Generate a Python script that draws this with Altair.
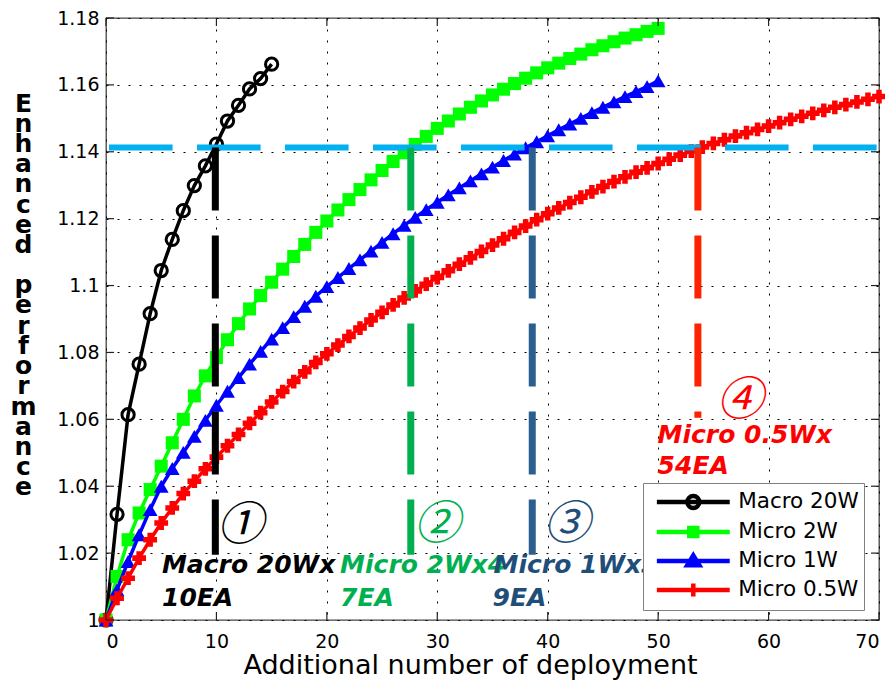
import altair as alt
import pandas as pd

# ---------------- data ----------------
series_names = ["Macro 20W", "Micro 2W", "Micro 1W", "Micro 0.5W"]
series_colors = ["#000000", "#00FF00", "#0000FF", "#FF0000"]

macro_20w = [1.000, 1.0316, 1.0614, 1.0765, 1.0916, 1.1045, 1.1138, 1.1224,
             1.1299, 1.1358, 1.1423, 1.1492, 1.1539, 1.1588, 1.1619, 1.1662]

micro_2w = [1.000, 1.013, 1.024, 1.032, 1.039, 1.046, 1.053, 1.060, 1.067, 1.073,
            1.0785, 1.0838, 1.0886, 1.0930, 1.0970, 1.1010, 1.1049, 1.1087, 1.1123, 1.1159,
            1.1193, 1.1226, 1.1257, 1.1287, 1.1316, 1.1344, 1.1371, 1.1397, 1.1422, 1.1446,
            1.1470, 1.1492, 1.1513, 1.1533, 1.1552, 1.1570, 1.1587, 1.1604, 1.1620, 1.1636,
            1.1651, 1.1665, 1.1679, 1.1692, 1.1705, 1.1717, 1.1729, 1.1740, 1.1750, 1.1760,
            1.1769]

micro_1w = [1.000, 1.009, 1.0175, 1.0255, 1.033, 1.0400, 1.0453, 1.0501, 1.0549, 1.0597,
            1.0642, 1.0684, 1.0725, 1.0765, 1.0803, 1.0840, 1.0874, 1.0907, 1.0938, 1.0968,
            1.0997, 1.1024, 1.1051, 1.1077, 1.1103, 1.1129, 1.1155, 1.1180, 1.1204, 1.1227,
            1.1249, 1.1271, 1.1292, 1.1313, 1.1334, 1.1354, 1.1374, 1.1393, 1.1412, 1.1430,
            1.1448, 1.1466, 1.1483, 1.1500, 1.1517, 1.1533, 1.1549, 1.1565, 1.1580, 1.1595,
            1.1612]

micro_05w = [1.0000, 1.0065, 1.0125, 1.0185, 1.0240, 1.0290, 1.0335, 1.0378, 1.0415, 1.0452,
             1.0487, 1.0521, 1.0555, 1.0588, 1.0620, 1.0652, 1.0683, 1.0713, 1.0742, 1.0770,
             1.0796, 1.0822, 1.0848, 1.0873, 1.0897, 1.0920, 1.0942, 1.0963, 1.0984, 1.1004,
             1.1024, 1.1044, 1.1064, 1.1083, 1.1102, 1.1121, 1.1140, 1.1159, 1.1178, 1.1197,
             1.1215, 1.1232, 1.1248, 1.1264, 1.1280, 1.1296, 1.1311, 1.1325, 1.1339, 1.1352,
             1.1365, 1.1378, 1.1390, 1.1402, 1.1414, 1.1425, 1.1436, 1.1447, 1.1457, 1.1467,
             1.1477, 1.1487, 1.1497, 1.1506, 1.1515, 1.1524, 1.1533, 1.1541, 1.1549, 1.1557,
             1.1565]

series_values = [macro_20w, micro_2w, micro_1w, micro_05w]

# threshold line and vertical markers
threshold = 1.1413
vline_x = [9.9, 27.6, 38.6, 53.6]
vline_bottom = [1.0195, 1.0195, 1.0195, 1.0605]
vline_colors = ["#000000", "#00B050", "#2A5F8F", "#FF2200"]

# annotations
ann_text = ["Macro 20Wx", "10EA", "Micro 2Wx4", "7EA", "Micro 1Wx3", "9EA", "Micro 0.5Wx", "54EA"]
ann_x = [5.07, 5.07, 21.2, 21.2, 35.1, 35.0, 49.95, 49.95]
ann_y = [1.0165, 1.0066, 1.0165, 1.0066, 1.0165, 1.0066, 1.0554, 1.0459]
ann_colors = ["#000000", "#000000", "#00B050", "#00B050", "#1F4E79", "#1F4E79", "#FF0000", "#FF0000"]

num_text = ["①", "②", "③", "④"]
num_x = [12.13, 29.95, 41.7, 57.4]
num_y = [1.028, 1.0285, 1.0285, 1.0654]
num_colors = ["#000000", "#00B050", "#1F4E79", "#FF0000"]

x_ticks = [0, 10, 20, 30, 40, 50, 60, 70]
y_ticks = [1.0, 1.02, 1.04, 1.06, 1.08, 1.1, 1.12, 1.14, 1.16, 1.18]

x_title = "Additional number of deployment"
y_title = list("Enhanced") + ["\u2800"] + list("performance")

# ---------------- chart ----------------
W, H = 773, 602
xs = alt.Scale(domain=[0, 70], nice=False, zero=False)
ys = alt.Scale(domain=[1.0, 1.18], nice=False, zero=False)

x_axis = alt.Axis(values=x_ticks, grid=True, gridDash=[2, 9], gridColor="#000000",
                  gridWidth=1, ticks=False, domain=False, labelFont="DejaVu Sans",
                  labelFontSize=19, labelColor="#000000", labelPadding=12,
                  title=x_title, titleFont="DejaVu Sans", titleFontSize=27,
                  titleFontWeight="normal", titleColor="#000000", titleX=364, titleY=53,
                  titleAlign="center", titleBaseline="alphabetic")
y_axis = alt.Axis(values=y_ticks, format=".3~g", grid=True, gridDash=[2, 9],
                  gridColor="#000000", gridWidth=1, ticks=False, domain=False,
                  labelFont="DejaVu Sans", labelFontSize=19, labelColor="#000000",
                  labelPadding=7, title=y_title, titleAngle=0, titleX=-83, titleY=93,
                  titleAlign="center", titleBaseline="alphabetic", titleFont="DejaVu Sans",
                  titleFontSize=25, titleFontWeight="bold", titleColor="#000000",
                  titleLineHeight=20.2)


def X(field="x:Q"):
    return alt.X(field, scale=xs, axis=x_axis)


def Y(field="y:Q"):
    return alt.Y(field, scale=ys, axis=y_axis)


layers = []

marker_specs = [
    dict(shape="circle", filled=False, size=150, strokeWidth=3),
    dict(shape="square", filled=True, size=170),
    dict(shape="triangle-up", filled=True, size=220),
    dict(shape="cross", filled=True, size=190),
]

for name, color, vals, mspec in zip(series_names, series_colors, series_values, marker_specs):
    df = pd.DataFrame({"x": list(range(len(vals))), "y": vals, "series": name})
    line = alt.Chart(df).mark_line(color=color, strokeWidth=3.5).encode(x=X(), y=Y())
    pts = alt.Chart(df).mark_point(color=color, opacity=1, **mspec).encode(x=X(), y=Y())
    layers += [line, pts]

# threshold dashed line
thr_df = pd.DataFrame({"x": [0], "x2": [70], "y": [threshold]})
thr = alt.Chart(thr_df).mark_rule(color="#00B0F0", strokeWidth=6, strokeDash=[63.6, 24.4],
                                  strokeDashOffset=85).encode(x=X(), x2="x2:Q", y=Y())
layers.append(thr)

# vertical dashed markers
vl_df = pd.DataFrame({"x": vline_x, "y": [threshold] * 4, "y2": vline_bottom, "c": vline_colors})
vl = alt.Chart(vl_df).mark_rule(strokeWidth=7, strokeDash=[63, 25]).encode(
    x=X(), y=Y(), y2="y2:Q", color=alt.Color("c:N", scale=None, legend=None))
layers.append(vl)

# annotation text
ann_df = pd.DataFrame({"t": ann_text, "x": ann_x, "y": ann_y, "c": ann_colors})
ann = alt.Chart(ann_df).mark_text(align="left", baseline="middle", font="DejaVu Sans",
                                  fontSize=25, fontWeight="bold", fontStyle="italic").encode(
    x=X(), y=Y(), text="t:N", color=alt.Color("c:N", scale=None, legend=None))
layers.append(ann)

num_df = pd.DataFrame({"t": num_text, "x": num_x, "y": num_y, "c": num_colors})
num = alt.Chart(num_df).mark_text(align="center", baseline="middle", font="Noto Sans CJK JP",
                                  fontSize=46, fontStyle="italic").encode(
    x=X(), y=Y(), text="t:N", color=alt.Color("c:N", scale=None, legend=None))
layers.append(num)

# inner tick marks on all four sides
xt_df = pd.DataFrame({"x": x_ticks})
yt_df = pd.DataFrame({"y": y_ticks})
tick_style = dict(size=8, thickness=1.2, color="#222222", opacity=1)
layers.append(alt.Chart(xt_df).mark_tick(orient="vertical", yOffset=-4, **tick_style).encode(
    x=X(), y=alt.value(H)))
layers.append(alt.Chart(xt_df).mark_tick(orient="vertical", yOffset=4, **tick_style).encode(
    x=X(), y=alt.value(0)))
layers.append(alt.Chart(yt_df).mark_tick(orient="horizontal", xOffset=4, **tick_style).encode(
    y=Y(), x=alt.value(0)))
layers.append(alt.Chart(yt_df).mark_tick(orient="horizontal", xOffset=-4, **tick_style).encode(
    y=Y(), x=alt.value(W)))

# legend carrier (invisible points, legend drawn with line + marker symbols)
leg_paths = [
    "M-0.49,0A0.49,0.49,0,1,1,0.49,0A0.49,0.49,0,1,1,-0.49,0Z M-3,0H3",
    "M-0.33,-0.33H0.33V0.33H-0.33Z M-3,0H3",
    "M0,-0.47L0.5,0.36H-0.5Z M-3,0H3",
    "M0,-0.53V0.53 M-3,0H3",
]
leg_fills = ["#FFFFFF", "#00FF00", "#0000FF", "#FF0000"]
leg_df = pd.DataFrame({"series": series_names, "x": [0] * 4, "y": [1.0] * 4})
legend = alt.Legend(title=None, orient="none", legendX=537, legendY=465, padding=4.5,
                    symbolSize=590, symbolOffset=31.3, labelOffset=30.4, rowPadding=0,
                    symbolStrokeWidth=4.5, symbolOpacity=1, labelFont="DejaVu Sans",
                    labelFontSize=21.5, labelColor="#000000", fillColor="#FFFFFF",
                    strokeColor="#808080", labelLimit=300)
carrier = alt.Chart(leg_df).mark_point(opacity=0).encode(
    x=X(), y=Y(),
    shape=alt.Shape("series:N", scale=alt.Scale(domain=series_names, range=leg_paths), legend=legend),
    fill=alt.Fill("series:N", scale=alt.Scale(domain=series_names, range=leg_fills), legend=legend),
    stroke=alt.Stroke("series:N", scale=alt.Scale(domain=series_names, range=series_colors), legend=legend),
)
layers.append(carrier)

chart = alt.layer(*layers).properties(
    width=W, height=H,
    autosize=alt.AutoSizeParams(type="none"),
    padding={"left": 98, "top": 10, "right": 6, "bottom": 60},
).configure_view(stroke="#444444", strokeWidth=1.3)

chart.save("out.html", embed_options={"renderer": "svg", "actions": False})
